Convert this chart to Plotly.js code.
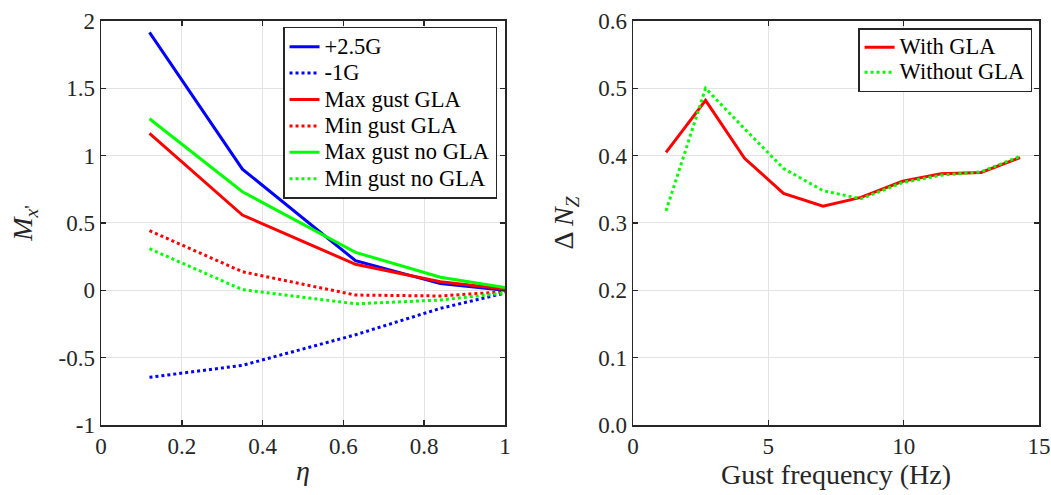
<!DOCTYPE html>
<html><head><meta charset="utf-8">
<script src="https://cdn.plot.ly/plotly-3.0.1.min.js"></script>
<style>body{margin:0;padding:0;background:#fff}#chart{width:1051px;height:495px}</style>
</head><body><div id="chart"></div>
<script>
// Left panel: spanwise position eta
const eta = [0.12, 0.35, 0.63, 0.84, 1.0];
const plus25G = [1.915, 0.90, 0.22, 0.05, 0.0];
const minus1G = [-0.646, -0.557, -0.33, -0.134, -0.02];
const maxGustGLA = [1.166, 0.559, 0.193, 0.064, 0.01];
const minGustGLA = [0.443, 0.138, -0.035, -0.042, -0.01];
const maxGustNoGLA = [1.274, 0.732, 0.282, 0.097, 0.02];
const minGustNoGLA = [0.309, 0.005, -0.10, -0.072, -0.02];
const leftNames = ['+2.5G', '-1G', 'Max gust GLA', 'Min gust GLA', 'Max gust no GLA', 'Min gust no GLA'];
const leftYTicks = [-1, -0.5, 0, 0.5, 1, 1.5, 2];
const leftYTickText = ['-1', '-0.5', '0', '0.5', '1', '1.5', '2'];

// Right panel: gust frequency (Hz)
const gustFreq = [1.22, 2.68, 4.12, 5.56, 7.02, 8.42, 9.96, 11.38, 12.86, 14.3];
const withGLA = [0.405, 0.482, 0.396, 0.344, 0.325, 0.338, 0.362, 0.373, 0.375, 0.397];
const withoutGLA = [0.318, 0.500, 0.440, 0.381, 0.348, 0.336, 0.360, 0.371, 0.376, 0.399];
const rightNames = ['With GLA', 'Without GLA'];

const FONT = 'Liberation Serif';
const AX = '#262626';
const W = 3;
const big = s => '<span style="font-size:22.5px">' + s + '</span>';

const traces = [
  {x: eta, y: plus25G, name: leftNames[0], line: {color: '#0000ff', width: W}},
  {x: eta, y: minus1G, name: leftNames[1], line: {color: '#0000ff', width: W, dash: 'dot'}},
  {x: eta, y: maxGustGLA, name: leftNames[2], line: {color: '#ff0000', width: W}},
  {x: eta, y: minGustGLA, name: leftNames[3], line: {color: '#ff0000', width: W, dash: 'dot'}},
  {x: eta, y: maxGustNoGLA, name: leftNames[4], line: {color: '#00ff00', width: W}},
  {x: eta, y: minGustNoGLA, name: leftNames[5], line: {color: '#00ff00', width: W, dash: 'dot'}}
].map(t => Object.assign(t, {name: big(t.name), type: 'scatter', mode: 'lines', xaxis: 'x', yaxis: 'y', legend: 'legend'}));

traces.push(
  {type: 'scatter', mode: 'lines', x: gustFreq, y: withGLA, name: big(rightNames[0]), xaxis: 'x2', yaxis: 'y2', legend: 'legend2', line: {color: '#ff0000', width: W}},
  {type: 'scatter', mode: 'lines', x: gustFreq, y: withoutGLA, name: big(rightNames[1]), xaxis: 'x2', yaxis: 'y2', legend: 'legend2', line: {color: '#00ff00', width: W, dash: 'dot'}}
);

function axis(extra) {
  return Object.assign({
    showline: true, linecolor: AX, linewidth: 1.5, mirror: 'ticks',
    ticks: 'inside', ticklen: 5, tickwidth: 1.5, tickcolor: AX,
    showgrid: true, gridcolor: '#e3e3e3', gridwidth: 1, zeroline: false,
    tickfont: {family: FONT, size: 23, color: AX}
  }, extra);
}

const yd = [0.1414, 0.9576];
const layout = {
  width: 1051, height: 495,
  margin: {l: 0, r: 0, t: 0, b: 0},
  paper_bgcolor: '#fff', plot_bgcolor: '#fff',
  font: {family: FONT, color: AX},
  showlegend: true,
  xaxis: axis({domain: [0.0961, 0.4805], range: [0, 1], dtick: 0.2, anchor: 'y',
    title: {text: '<i>η</i>', font: {family: FONT, size: 28, color: AX}, standoff: 2}}),
  yaxis: axis({domain: yd, range: [-1, 2], tickmode: 'array', tickvals: leftYTicks, ticktext: leftYTickText, anchor: 'x',
    title: {text: "<i>M</i><sub><i>x</i>'</sub>", font: {family: FONT, size: 28, color: AX}, standoff: 17}}),
  xaxis2: axis({domain: [0.6023, 0.9886], range: [0, 15], dtick: 5, anchor: 'y2',
    title: {text: 'Gust frequency (Hz)', font: {family: FONT, size: 28, color: AX}, standoff: 0}}),
  yaxis2: axis({domain: yd, range: [0, 0.6], dtick: 0.1, anchor: 'x2', tickformat: '.1f',
    title: {text: 'Δ <i>N</i><sub><i>Z</i></sub>', font: {family: FONT, size: 28, color: AX}, standoff: 16}}),
  legend: {x: 0.4729, y: 0.9455, xanchor: 'right', yanchor: 'top', bgcolor: '#fff',
    bordercolor: AX, borderwidth: 1.5, font: {family: FONT, size: 18, color: '#000'},
    tracegroupgap: 0, itemwidth: 30},
  legend2: {x: 0.982, y: 0.943, xanchor: 'right', yanchor: 'top', bgcolor: '#fff',
    bordercolor: AX, borderwidth: 1.5, font: {family: FONT, size: 17, color: '#000'},
    tracegroupgap: 0, itemwidth: 30}
};

Plotly.newPlot('chart', traces, layout, {displayModeBar: false, staticPlot: true});
</script>
</body></html>
